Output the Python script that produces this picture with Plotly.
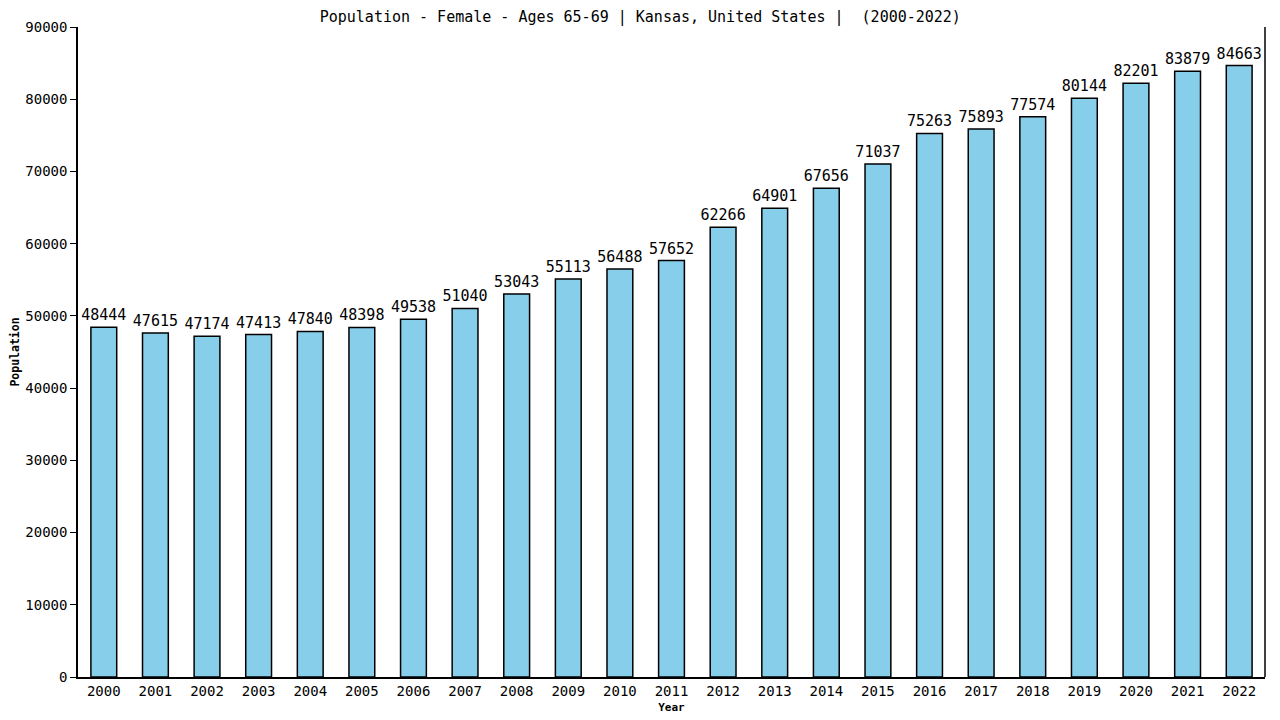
import plotly.graph_objects as go

years = [str(y) for y in range(2000, 2023)]
population = [48444, 47615, 47174, 47413, 47840, 48398, 49538, 51040, 53043, 55113,
              56488, 57652, 62266, 64901, 67656, 71037, 75263, 75893, 77574, 80144,
              82201, 83879, 84663]
y_ticks = list(range(0, 90001, 10000))

font = "DejaVu Sans Mono"

fig = go.Figure(go.Bar(
    x=years, y=population,
    marker=dict(color="#87CEEB", line=dict(color="black", width=1.5)),
    width=0.5,
    text=[str(v) for v in population],
    textposition="outside",
    constraintext="none",
    textfont=dict(family=font, size=15, color="black"),
    cliponaxis=False,
))

# page body has an 8px offset, so margins are shifted to match
fig.update_layout(
    width=1280, height=720,
    margin=dict(l=70, r=23, t=19, b=51, autoexpand=False),
    plot_bgcolor="white", paper_bgcolor="white",
    showlegend=False,
    title=dict(text="Population - Female - Ages 65-69 | Kansas, United States |  (2000-2022)",
               x=0.494, xanchor="center", y=0.995, yanchor="top", pad=dict(t=0),
               font=dict(family=font, size=15, color="black")),
    font=dict(family=font, color="black"),
)

fig.update_xaxes(
    type="category", range=[-0.5, 22.5],
    showline=True, linecolor="black", linewidth=1.5, mirror=False,
    ticks="", tickfont=dict(family=font, size=14),
    title=dict(text="<b>Year</b>", font=dict(family=font, size=11), standoff=6),
)

fig.update_yaxes(
    range=[0, 90000], tickvals=y_ticks, ticktext=[str(v) for v in y_ticks],
    showline=True, linecolor="black", linewidth=1.5,
    ticks="outside", ticklen=6, tickcolor="black",
    showgrid=False, zeroline=False,
    tickfont=dict(family=font, size=14),
    title=dict(text="<b>Population</b>", font=dict(family=font, size=11.5), standoff=7),
)

# right border line
fig.add_shape(type="line", xref="paper", yref="paper", x0=1, x1=1, y0=0, y1=1,
              line=dict(color="black", width=1.5))

fig.write_html("out.html")
